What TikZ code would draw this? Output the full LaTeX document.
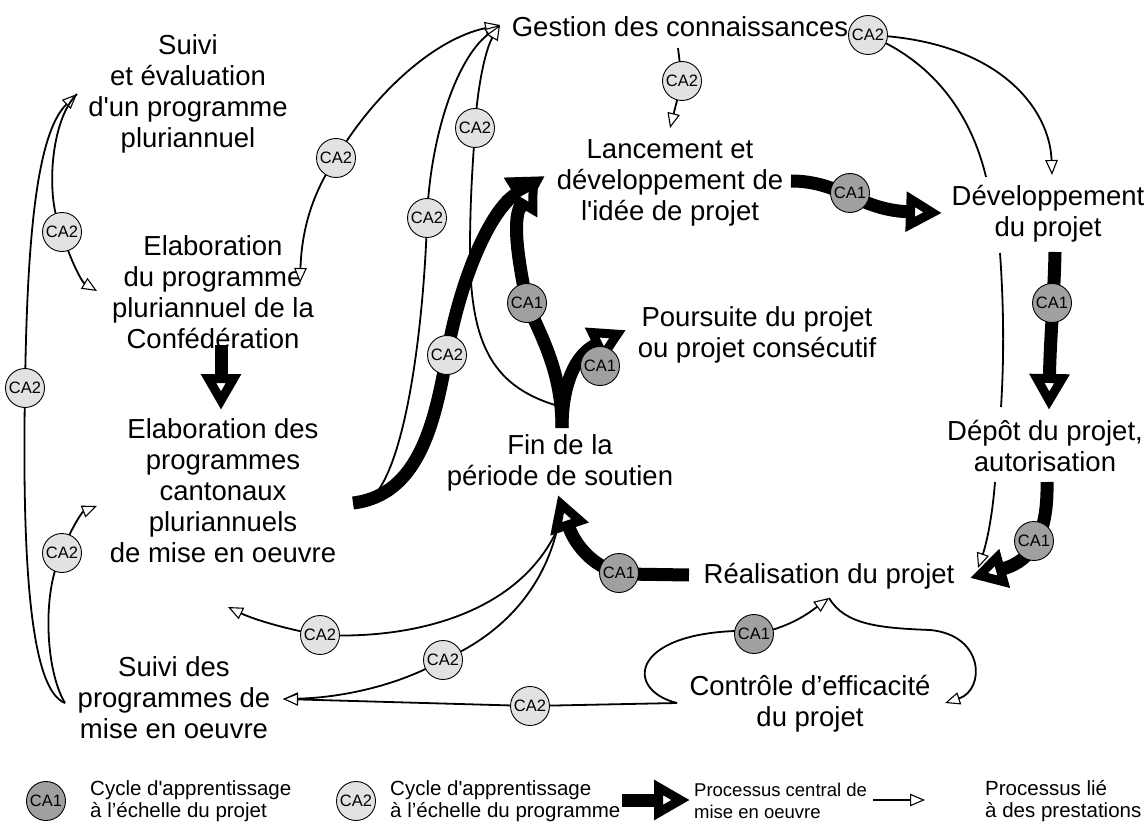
\documentclass[tikz,border=0pt]{standalone}
\usepackage{fontspec}
\setmainfont{Liberation Sans}
\usetikzlibrary{arrows.meta}
\definecolor{caone}{HTML}{A0A0A0}
\definecolor{catwo}{HTML}{E2E2E2}
\begin{document}
\begin{tikzpicture}[x=1pt,y=-1pt,
  lbl/.style={align=center,font=\fontsize{27.5}{31}\selectfont,inner sep=0pt},
  leg/.style={align=left,anchor=west,font=\fontsize{20.5}{21.5}\selectfont,inner sep=0pt},
  legs/.style={leg,font=\fontsize{18.5}{21.5}\selectfont},
  ca/.style={circle,draw,line width=0.9pt,minimum size=39pt,inner sep=0pt,font=\fontsize{16.5}{16.5}\selectfont},
  caA/.style={ca,fill=caone},
  caB/.style={ca,fill=catwo},
  thinhead/.tip={Triangle[length=15pt,width=12.5pt,line width=1.1pt,fill=white]},
  bighead/.tip={Triangle[length=36pt,width=38pt,line width=9pt,fill=white]},
  lnk/.style={line width=1.8pt},
  lnkarr/.style={lnk,-thinhead},
  bigarr/.style={line width=13pt,-bighead}
]
\useasboundingbox (0,0) rectangle (1148,826);

% ---------- text nodes ----------
\node[lbl] (suivieval) at (188,94) {Suivi\\et évaluation\\d\textquotesingle un programme\\pluriannuel};
\node[lbl] (elabconf) at (213,292) {Elaboration\\du programme\\pluriannuel de la\\Confédération};
\node[lbl] (elabcant) at (223,491) {Elaboration des\\programmes\\cantonaux\\pluriannuels\\de mise en oeuvre};
\node[lbl] (suiviprog) at (174,698) {Suivi des\\programmes de\\mise en oeuvre};
\node[lbl] (gestion) at (680,27) {Gestion des connaissances};
\node[lbl] (lancement) at (670,183) {Lancement et\\développement de\\l\textquotesingle idée de projet};
\node[lbl] (devproj) at (1048,214) {Développement\\du projet};
\node[lbl] (poursuite) at (757,335) {Poursuite du projet\\ou projet consécutif};
\node[lbl] (fin) at (560,463) {Fin de la\\période de soutien};
\node[lbl] (depot) at (1045,446) {Dépôt du projet,\\autorisation};
\node[lbl] (realis) at (829,576) {Réalisation du projet};
\node[lbl] (controle) at (810,704) {Contrôle d’efficacité\\du projet};

% ---------- anchor coordinates ----------
\coordinate (pse) at (77,94);
\coordinate (psp) at (65,703);
\coordinate (pec) at (97,291);
\coordinate (pecan) at (97,506);
\coordinate (pecprog) at (300,283);
\coordinate (pges) at (500,25);
\coordinate (pcant) at (372,498);
\coordinate (pfintop) at (555,405);
\coordinate (pgesbot) at (678,48);
\coordinate (plan) at (670,128);
\coordinate (pdev) at (1052,175);
\coordinate (pfinbot) at (557,530);
\coordinate (pcantbot) at (228,607);
\coordinate (psparr) at (283,699);
\coordinate (pctl) at (677,703);
\coordinate (preal) at (829,598);
\coordinate (pctlarr) at (945,703);

% ---------- CA circle positions ----------
\coordinate (ka) at (25,388);
\coordinate (kb) at (62,232);
\coordinate (kc) at (62,553);
\coordinate (kd) at (336,158);
\coordinate (ke) at (427,218);
\coordinate (kf) at (475,128);
\coordinate (kg) at (447,355);
\coordinate (kh) at (682,81);
\coordinate (ki) at (868,35);
\coordinate (kj) at (320,635);
\coordinate (kk) at (443,660);
\coordinate (kl) at (530,706);
\coordinate (km) at (527,303);
\coordinate (kn) at (600,366);
\coordinate (ko) at (850,193);
\coordinate (kp) at (1052,303);
\coordinate (kq) at (1034,541);
\coordinate (kr) at (619,573);
\coordinate (ks) at (754,634);

% ---------- thin connectors ----------
\draw[lnkarr] (psp) .. controls (30,690) and (22,560) .. (ka) .. controls (27,250) and (35,135) .. (pse);
\draw[lnkarr] (pse) .. controls (50,120) and (45,200) .. (kb) .. controls (70,260) and (82,282) .. (pec);
\draw[lnkarr] (psp) .. controls (45,670) and (42,590) .. (kc) .. controls (70,530) and (82,512) .. (pecan);
\draw[lnk,thinhead-thinhead] (pecprog) .. controls (302,220) and (318,185) .. (kd) .. controls (370,100) and (430,40) .. (pges);
\draw[lnkarr] (pcant) .. controls (410,460) and (425,300) .. (ke) .. controls (430,140) and (455,60) .. (pges);
\draw[lnkarr] (pfintop) .. controls (490,385) and (470,340) .. (470,250) .. controls (470,190) and (474,150) .. (kf) .. controls (477,90) and (485,50) .. (pges);
\draw[lnkarr] (pgesbot) -- (kh) -- (plan);
\draw[lnkarr] (ki) .. controls (1000,40) and (1050,110) .. (pdev);
\coordinate (q1) at (986,177);
\coordinate (q2) at (1000,253);
\coordinate (q3) at (1001,407);
\coordinate (q4) at (995,482);
\coordinate (q5) at (978,568);
\draw[lnk] (ki) .. controls (930,60) and (970,110) .. (q1);
\draw[lnk] (q2) .. controls (1004,310) and (1004,360) .. (q3);
\draw[lnkarr] (q4) .. controls (992,520) and (986,545) .. (q5);
\draw[lnkarr] (pfinbot) .. controls (520,610) and (420,640) .. (kj) .. controls (290,630) and (255,620) .. (pcantbot);
\draw[lnkarr] (pfinbot) .. controls (540,600) and (490,640) .. (kk) .. controls (390,690) and (330,698) .. (psparr);
\draw[lnkarr] (pctl) -- (kl) -- (psparr);
\draw[lnkarr] (pctl) .. controls (625,690) and (630,635) .. (735,631) -- (ks) .. controls (790,628) and (810,612) .. (preal);
\draw[lnkarr] (preal) .. controls (845,625) and (880,628) .. (930,630) .. controls (985,635) and (985,690) .. (pctlarr);

% ---------- thick connectors ----------
\coordinate (t1a) at (221,345);
\coordinate (t1b) at (221,410);
\draw[bigarr] (t1a) -- (t1b);
\coordinate (t2a) at (791,181);
\coordinate (t2b) at (942,213);
\draw[bigarr] (t2a) .. controls (840,181) and (860,210) .. (t2b);
\coordinate (t3a) at (1055,252);
\coordinate (t3b) at (1049,410);
\draw[bigarr] (t3a) .. controls (1054,300) and (1050,340) .. (t3b);
\coordinate (t4a) at (1047,482);
\coordinate (t4b) at (970,578);
\draw[bigarr] (t4a) .. controls (1048,530) and (1035,560) .. (t4b);
\coordinate (t5a) at (689,575);
\coordinate (t5b) at (558,495);
\draw[bigarr] (t5a) -- (625,574) .. controls (595,570) and (575,545) .. (t5b);
\coordinate (t6a) at (353,503);
\coordinate (t6b) at (545,176);
\draw[bigarr] (t6a) .. controls (420,495) and (435,420) .. (kg) .. controls (460,280) and (490,210) .. (t6b);
\coordinate (t7a) at (562,428);
\coordinate (t7b) at (538,176);
\draw[bigarr] (t7a) .. controls (562,370) and (540,335) .. (km) .. controls (518,260) and (512,220) .. (t7b);
\coordinate (t8b) at (626,330);
\draw[bigarr] (t7a) .. controls (562,385) and (575,355) .. (t8b);

% ---------- CA circles ----------
\node[caB] (ca2a) at (ka) {CA2};
\node[caB] (ca2b) at (kb) {CA2};
\node[caB] (ca2c) at (kc) {CA2};
\node[caB] (ca2d) at (kd) {CA2};
\node[caB] (ca2e) at (ke) {CA2};
\node[caB] (ca2f) at (kf) {CA2};
\node[caB] (ca2g) at (kg) {CA2};
\node[caB] (ca2h) at (kh) {CA2};
\node[caB] (ca2i) at (ki) {CA2};
\node[caB] (ca2j) at (kj) {CA2};
\node[caB] (ca2k) at (kk) {CA2};
\node[caB] (ca2l) at (kl) {CA2};
\node[caA] (ca1m) at (km) {CA1};
\node[caA] (ca1n) at (kn) {CA1};
\node[caA] (ca1o) at (ko) {CA1};
\node[caA] (ca1p) at (kp) {CA1};
\node[caA] (ca1q) at (kq) {CA1};
\node[caA] (ca1r) at (kr) {CA1};
\node[caA] (ca1s) at (ks) {CA1};

% ---------- legend ----------
\node[caA] (lg1) at (46,801) {CA1};
\node[leg] (lt1) at (90,801) {Cycle d\textquotesingle apprentissage\\à l’échelle du projet};
\node[caB] (lg2) at (356,801) {CA2};
\node[leg] (lt2) at (390,801) {Cycle d\textquotesingle apprentissage\\à l’échelle du programme};
\coordinate (la1) at (622,800);
\coordinate (la2) at (690,800);
\draw[bigarr] (la1) -- (la2);
\node[legs] (lt3) at (694,801) {Processus central de\\mise en oeuvre};
\coordinate (lb1) at (873,800);
\coordinate (lb2) at (925,800);
\draw[lnkarr] (lb1) -- (lb2);
\node[leg] (lt4) at (985,801) {Processus lié\\à des prestations};
\end{tikzpicture}
\end{document}
